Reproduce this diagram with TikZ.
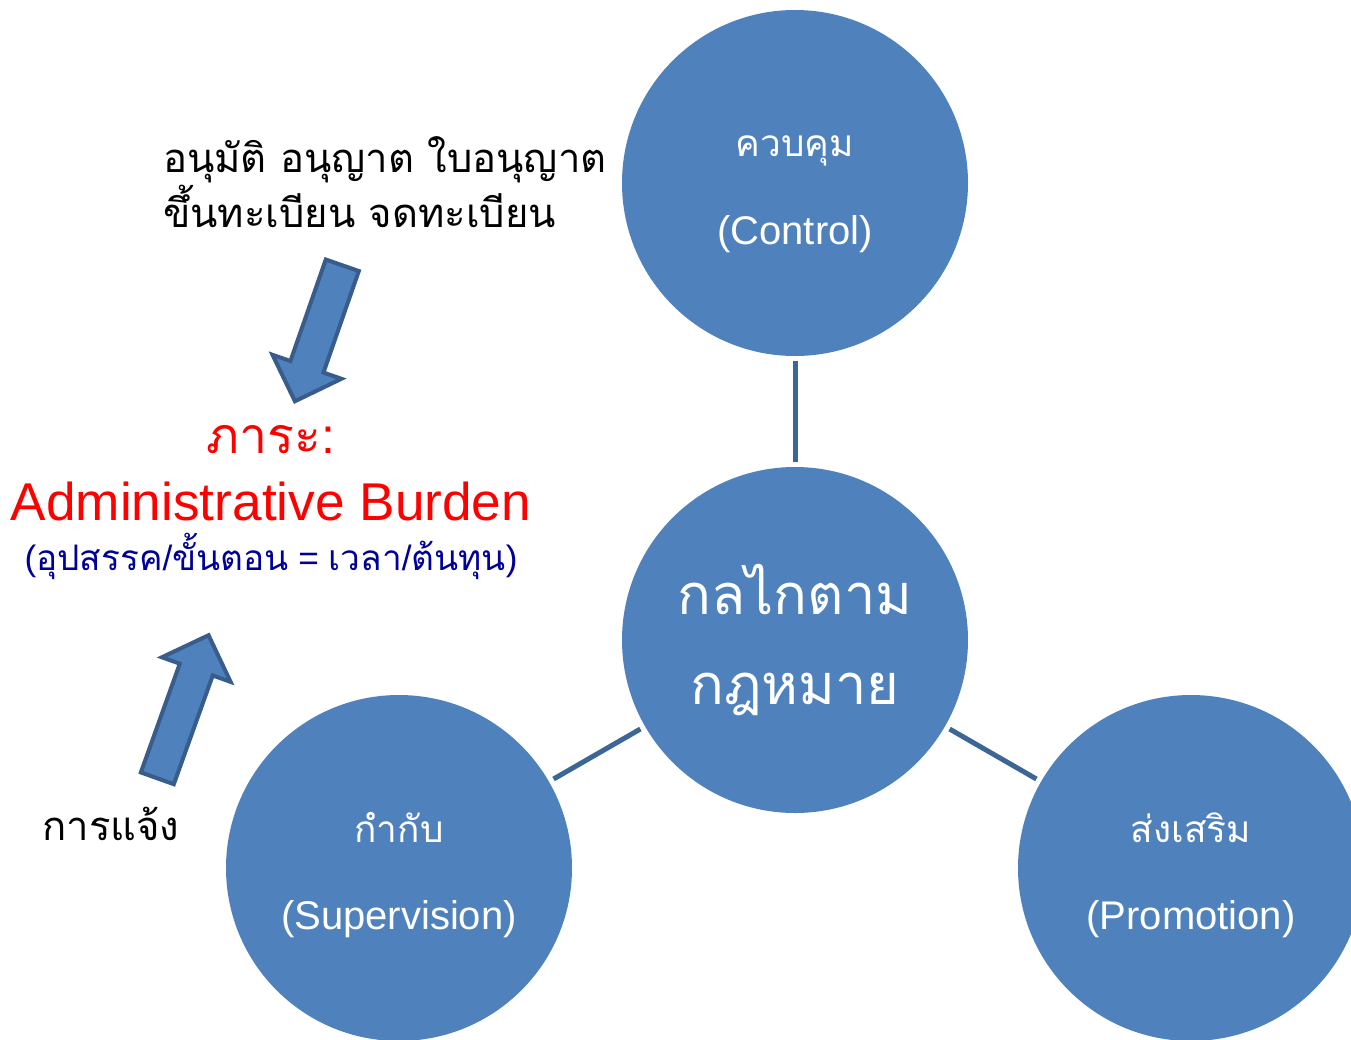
\documentclass[tikz,border=0pt]{standalone}
\usepackage{fontspec}
\setmainfont{Liberation Sans}
\newfontfamily\thaifont[Script=Thai]{Loma}
\usetikzlibrary{shapes.arrows}

\definecolor{circblue}{HTML}{4F81BD}
\definecolor{linkblue}{HTML}{3C6696}
\definecolor{arrowedge}{HTML}{385D8A}
\definecolor{notenavy}{HTML}{000099}

\newcommand{\thl}[1]{{\thaifont\fontsize{18.5}{24}\selectfont #1}\rule{0pt}{22pt}}

\tikzset{
  circ/.style={circle, fill=circblue, minimum size=173pt, inner sep=0pt,
    text=white, align=center, font=\fontsize{20}{24}\selectfont},
  link/.style={draw=linkblue, line width=2.5pt, shorten <=2.5pt, shorten >=2.5pt},
  blockarrow/.style={single arrow, draw=arrowedge, fill=circblue, line width=2pt,
    minimum height=72pt, minimum width=35pt, single arrow head extend=9.5pt,
    inner xsep=0pt, inner ysep=7.75pt},
}

\begin{document}
\begin{tikzpicture}[x=0.5pt, y=-0.5pt]
\useasboundingbox (0,0) rectangle (1351,1040);
\clip (0,0) rectangle (1351,1040);

% the four circles
\node[circ] (control) at (795,183) {\thl{ควบคุม}\\[20pt](Control)};
\node[circ, font=\fontsize{28}{34}\selectfont] (core) at (795,640)
	{\thaifont กลไกตาม\\[11pt]\thaifont กฎหมาย};
\node[circ] (supervise) at (399,868) {\thl{กำกับ}\\[19.5pt](Supervision)};
\node[circ] (promote) at (1191,868) {\thl{ส่งเสริม}\\[19.5pt](Promotion)};

\draw[link] (control) -- (core);
\draw[link] (supervise) -- (core);
\draw[link] (promote) -- (core);

% burden text on the left
\node[anchor=west, align=left, font=\thaifont\fontsize{20}{25}\selectfont] (permits) at (156,182)
	{อนุมัติ อนุญาต ใบอนุญาต\\ขึ้นทะเบียน จดทะเบียน};
\node[text=red, font=\fontsize{25}{30}\selectfont] (burdenhead) at (271,440) {{\thaifont ภาระ}:};
\node[text=red, font=\fontsize{26.6}{30}\selectfont] (burden) at (271,501) {Administrative Burden};
\node[text=notenavy, font=\fontsize{17.6}{22}\selectfont] (burdennote) at (271,556)
	{({\thaifont อุปสรรค}/{\thaifont ขั้นตอน} = {\thaifont เวลา}/{\thaifont ต้นทุน})};
\node[font=\thaifont\fontsize{20}{24}\selectfont] (notify) at (111,824) {การแจ้ง};

% block arrows
\node[blockarrow, rotate=250.8] (downarrow) at (321.5,325) {};
\node[blockarrow, rotate=70.3, minimum height=76pt] (uparrow) at (180,715) {};
\end{tikzpicture}
\end{document}
